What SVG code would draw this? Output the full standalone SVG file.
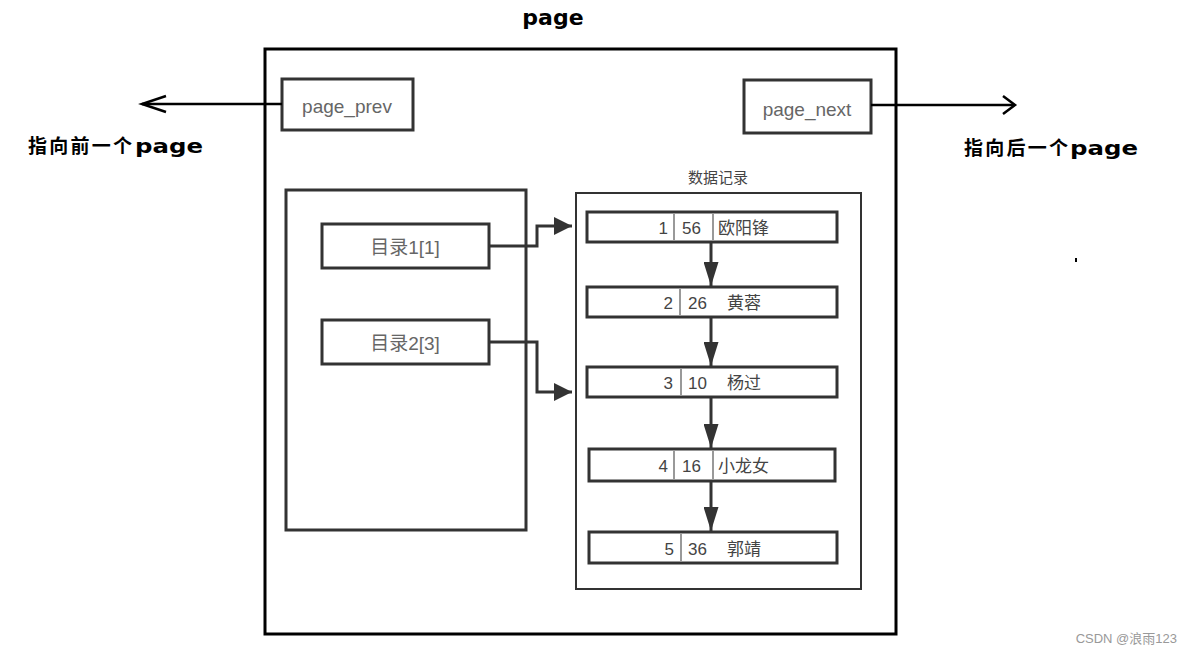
<svg xmlns="http://www.w3.org/2000/svg" width="1192" height="654" viewBox="0 0 1192 654">
<style>
.box{fill:#fff;stroke:#333;stroke-width:3}
.thin{fill:#fff;stroke:#333;stroke-width:2}
.lbl{font-family:"Liberation Sans","Noto Sans CJK SC",sans-serif;font-size:19px;fill:#666}
.rec{font-family:"Liberation Sans","Noto Sans CJK SC",sans-serif;font-size:17px;fill:#444}
.bold{font-family:"Noto Sans CJK SC","Noto Sans",sans-serif;font-weight:bold;font-size:19px;fill:#000}
.pg{font-family:"DejaVu Sans",sans-serif;font-weight:bold;font-size:20px;fill:#000}
.div{stroke:#555;stroke-width:1.2}
.con{fill:none;stroke:#333;stroke-width:3}
.blk{fill:none;stroke:#000;stroke-width:3}
</style>
<defs>
<marker id="tri" viewBox="0 0 10 10" refX="10" refY="5" markerWidth="6" markerHeight="6" markerUnits="strokeWidth" orient="auto"><path d="M0,0 L10,5 L0,10 Z" fill="#333"/></marker>
<marker id="triv" viewBox="0 0 10 10" refX="10" refY="5" markerWidth="8" markerHeight="5" markerUnits="strokeWidth" orient="auto" preserveAspectRatio="none"><path d="M0,0 L10,5 L0,10 Z" fill="#333"/></marker>
</defs>
<rect width="1192" height="654" fill="#fff"/>
<text x="553" y="25" text-anchor="middle" class="pg" style="font-size:22px">page</text>
<g id="page"><rect x="265" y="49" width="631" height="585" class="blk"/></g>
<g id="page_prev"><rect x="282" y="79" width="131" height="51" class="box"/><text x="347" y="113" text-anchor="middle" class="lbl">page_prev</text></g>
<g id="page_next"><rect x="744" y="80" width="127" height="53" class="box"/><text x="807" y="116" text-anchor="middle" class="lbl">page_next</text></g>
<text x="28" y="153" class="bold" textLength="104" lengthAdjust="spacing">指向前一个</text>
<text x="135" y="153" class="pg" textLength="68" lengthAdjust="spacingAndGlyphs">page</text>
<text x="964" y="155" class="bold" textLength="104" lengthAdjust="spacing">指向后一个</text>
<text x="1070" y="155" class="pg" textLength="68" lengthAdjust="spacingAndGlyphs">page</text>
<g id="dir"><rect x="286" y="190" width="240" height="340" class="box"/></g>
<g id="dir1"><rect x="322" y="224" width="167" height="44" class="box"/><text x="405" y="254" text-anchor="middle" class="lbl">目录1[1]</text></g>
<g id="dir2"><rect x="322" y="320" width="167" height="44" class="box"/><text x="405" y="350" text-anchor="middle" class="lbl">目录2[3]</text></g>
<text x="718" y="183" text-anchor="middle" class="rec" style="font-size:15px">数据记录</text>
<g id="data"><rect x="576" y="193" width="285" height="396" class="thin"/></g>
<g id="r1"><rect x="587" y="212" width="250" height="30" class="box"/>
<line x1="674" y1="214" x2="674" y2="240" class="div"/><line x1="713" y1="214" x2="713" y2="240" class="div"/>
<text x="668" y="234" text-anchor="end" class="rec">1</text><text x="682" y="234" class="rec">56</text><text x="718" y="234" class="rec">欧阳锋</text></g>
<g id="r2"><rect x="587" y="287" width="250" height="30" class="box"/>
<line x1="680" y1="289" x2="680" y2="315" class="div"/>
<text x="673" y="309" text-anchor="end" class="rec">2</text><text x="688" y="309" class="rec">26</text><text x="727" y="309" class="rec">黄蓉</text></g>
<g id="r3"><rect x="587" y="367" width="250" height="30" class="box"/>
<line x1="681" y1="369" x2="681" y2="395" class="div"/>
<text x="673" y="389" text-anchor="end" class="rec">3</text><text x="688" y="389" class="rec">10</text><text x="727" y="389" class="rec">杨过</text></g>
<g id="r4"><rect x="589" y="449" width="246" height="32" class="box"/>
<line x1="674" y1="451" x2="674" y2="479" class="div"/><line x1="713" y1="451" x2="713" y2="479" class="div"/>
<text x="668" y="472" text-anchor="end" class="rec">4</text><text x="682" y="472" class="rec">16</text><text x="718" y="472" class="rec">小龙女</text></g>
<g id="r5"><rect x="589" y="532" width="248" height="31" class="box"/>
<line x1="681" y1="534" x2="681" y2="561" class="div"/>
<text x="674" y="555" text-anchor="end" class="rec">5</text><text x="688" y="555" class="rec">36</text><text x="727" y="555" class="rec">郭靖</text></g>
<g id="connectors">
<path d="M282,104 H142" class="blk" style="stroke-width:2.5"/>
<path d="M166,96 L142,104 L166,112" class="blk" style="stroke-width:2.5"/>
<path d="M871,105 H1014" class="blk" style="stroke-width:2.5"/>
<path d="M1003,96 L1015,105 L1003,114" class="blk" style="stroke-width:2.5"/>
<path d="M489,246 H537 V226 H572" class="con" marker-end="url(#tri)"/>
<path d="M489,342 H537 V392 H572" class="con" marker-end="url(#tri)"/>
<path d="M711,242 V286" class="con" marker-end="url(#triv)"/>
<path d="M711,317 V366" class="con" marker-end="url(#triv)"/>
<path d="M711,397 V448" class="con" marker-end="url(#triv)"/>
<path d="M711,481 V531" class="con" marker-end="url(#triv)"/>
</g>
<rect x="1075" y="258" width="2" height="4" fill="#000"/>
<text x="1177" y="643" text-anchor="end" style="font-family:'Liberation Sans','Noto Sans CJK SC',sans-serif;font-size:13px;fill:#999">CSDN @浪雨123</text>
</svg>
